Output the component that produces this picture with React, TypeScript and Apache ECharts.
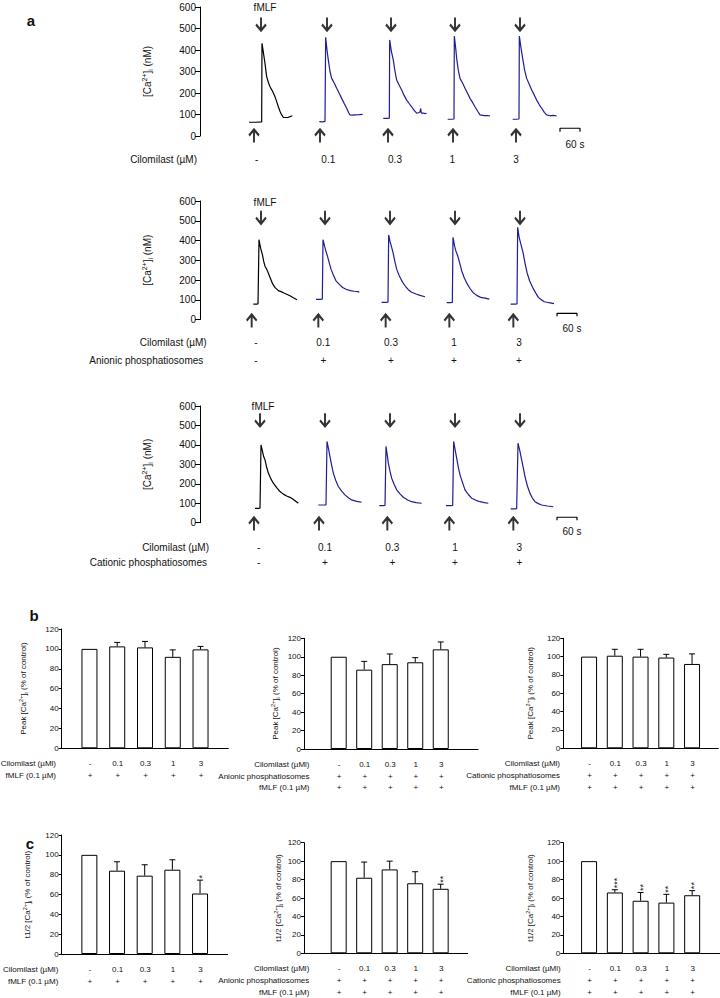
import React, { useEffect, useRef } from "react";
import * as echarts from "echarts";

const FONT = "'Liberation Sans', Arial, Helvetica, sans-serif";
const BLUE = "#1d1d97";
const INK = "#111";

// ---------------- Panel a: texts ----------------
const doseLabelsA = ["-", "0.1", "0.3", "1", "3"];
const anionicRowA = ["-", "+", "+", "+", "+"];
const cationicRowA = ["-", "+", "+", "+", "+"];

// ---------------- Panel a: traces ([seconds from trace start, nM]) ----------------
const row1Traces: number[][][] = [
  [[0, 64], [20, 64], [38, 66], [39, 431], [44, 380], [48, 338], [53, 276], [58, 250], [63, 229], [70, 210], [78, 183], [83, 160], [88, 136], [93, 115], [98, 98], [103, 87], [110, 86], [118, 87], [125, 91], [130, 94]],
  [[0, 67], [10, 66], [17, 68], [19, 459], [23, 400], [27, 353], [32, 300], [37, 268], [45, 245], [52, 222], [60, 198], [67, 175], [75, 150], [82, 129], [88, 108], [92, 98], [100, 97], [107, 98], [120, 99], [130, 101]],
  [[0, 82], [12, 82], [18, 83], [19, 447], [24, 395], [30, 353], [35, 300], [40, 260], [47, 238], [55, 214], [62, 190], [70, 167], [78, 150], [85, 136], [92, 120], [100, 106], [105, 108], [110, 112], [112, 128], [114, 106], [120, 107], [125, 104], [130, 106]],
  [[0, 78], [12, 78], [19, 79], [20, 465], [24, 410], [27, 361], [32, 305], [37, 268], [45, 245], [52, 222], [60, 198], [67, 175], [75, 155], [82, 136], [90, 115], [97, 98], [110, 95], [120, 95], [127, 93]],
  [[0, 78], [12, 78], [19, 79], [20, 465], [25, 410], [30, 361], [36, 305], [42, 268], [50, 240], [57, 214], [65, 190], [72, 167], [80, 145], [87, 129], [95, 110], [102, 98], [112, 94], [122, 96], [132, 93]],
];
const row2Traces: number[][][] = [
  [[0, 78], [10, 78], [14, 79], [17, 404], [22, 360], [27, 330], [31, 295], [35, 270], [40, 255], [46, 230], [52, 205], [58, 180], [66, 160], [75, 146], [85, 140], [92, 134], [100, 128], [110, 120], [120, 110], [131, 100]],
  [[0, 102], [12, 102], [19, 103], [21, 404], [26, 370], [30, 345], [34, 323], [40, 285], [45, 255], [52, 225], [60, 196], [70, 178], [80, 162], [90, 153], [103, 146], [115, 143], [126, 141], [130, 138]],
  [[0, 87], [12, 87], [19, 88], [21, 428], [25, 395], [30, 365], [34, 340], [40, 290], [45, 255], [53, 220], [63, 188], [72, 167], [80, 151], [90, 138], [103, 129], [115, 122], [130, 115]],
  [[0, 85], [12, 85], [17, 86], [19, 416], [24, 370], [28, 345], [33, 323], [40, 280], [45, 247], [53, 210], [62, 179], [70, 157], [79, 137], [90, 122], [102, 112], [115, 108], [128, 103]],
  [[0, 78], [12, 78], [19, 79], [21, 467], [25, 420], [30, 385], [37, 340], [43, 285], [49, 238], [57, 195], [66, 162], [75, 135], [83, 112], [92, 100], [101, 90], [115, 85], [130, 80]],
];
const row3Traces: number[][][] = [
  [[0, 74], [10, 74], [15, 75], [18, 400], [22, 370], [26, 340], [30, 323], [35, 285], [40, 255], [47, 228], [55, 203], [65, 180], [75, 160], [85, 147], [95, 137], [105, 130], [110, 126], [120, 113], [130, 100]],
  [[0, 91], [15, 91], [23, 92], [26, 418], [30, 385], [35, 340], [40, 295], [45, 255], [52, 218], [60, 186], [70, 162], [80, 143], [90, 128], [100, 117], [115, 110], [130, 105]],
  [[0, 88], [12, 88], [17, 89], [20, 392], [24, 345], [27, 306], [32, 265], [37, 229], [45, 195], [52, 169], [62, 148], [72, 131], [85, 117], [97, 108], [110, 103], [127, 100]],
  [[0, 88], [14, 88], [20, 89], [23, 418], [28, 370], [32, 332], [37, 285], [42, 246], [50, 205], [57, 169], [67, 145], [77, 126], [90, 115], [102, 108], [115, 103], [127, 100]],
  [[0, 71], [12, 71], [18, 72], [22, 409], [28, 365], [33, 323], [38, 280], [43, 237], [50, 190], [58, 151], [65, 127], [73, 108], [83, 98], [93, 91], [110, 86], [128, 82]],
];

// ---------------- Panels b & c: data ----------------
const barDoses = ["-", "0.1", "0.3", "1", "3"];
const plusRow = ["+", "+", "+", "+", "+"];
const peakControl = [100, 102.5, 101.5, 92, 99.5];
const peakControlErr = [0, 4, 6, 7, 3];
const peakAnionic = [100, 86, 92, 94, 108];
const peakAnionicErr = [0, 9, 11, 5, 8];
const peakCationic = [100, 101, 100, 99, 92];
const peakCationicErr = [0, 7, 8, 3.5, 11];
const halfControl = [100, 84, 79, 85, 61];
const halfControlErr = [0, 9, 11, 10, 13.5];
const halfControlStars = ["", "", "", "", "*"];
const halfAnionic = [100, 82, 91, 76, 70];
const halfAnionicErr = [0, 17, 9, 12.5, 5];
const halfAnionicStars = ["", "", "", "", "**"];
const halfCationic = [100, 66, 57, 55, 63];
const halfCationicErr = [0, 3, 9, 9, 5];
const halfCationicStars = ["", "***", "**", "**", "**"];
const noStars = ["", "", "", "", ""];

// ---------------- Layout ----------------
const A_LEFT = 200;
const A_WIDTH = 400;
const A_TMAX = 1200; // seconds across the row (3 s per px)

const aRows = [
  {
    top: 7, bottom: 136, starts: [147, 358, 550, 743, 938], traces: row1Traces,
    down: [183, 381, 573, 765, 960], up: [162, 360, 564, 759, 948], downV: 521, upV: 0,
    bar: [1080, 1140], barV: 36, barTickV: 20,
    fmlf: [265, 7], sixty: [575, 144],
    headers: [{ text: "Cilomilast (µM)", right: 197, y: 159.3, cells: doseLabelsA }],
    colX: [256.7, 328.3, 395, 452.3, 516],
  },
  {
    top: 201, bottom: 319.5, starts: [160, 348, 545, 740, 932], traces: row2Traces,
    down: [183, 375, 570, 765, 960], up: [155, 355, 557, 748, 940], downV: 518, upV: -8,
    bar: [1071, 1131], barV: 31, barTickV: 16,
    fmlf: [265, 202], sixty: [572, 328.5],
    headers: [
      { text: "Cilomilast (µM)", right: 206.7, y: 342.7, cells: doseLabelsA },
      { text: "Anionic phosphatiosomes", right: 203.3, y: 360, cells: anionicRowA },
    ],
    colX: [256, 323.3, 391, 454, 519],
  },
  {
    top: 406, bottom: 522.7, starts: [165, 355, 538, 738, 932], traces: row3Traces,
    down: [180, 375, 570, 765, 960], up: [162, 357, 562, 748, 940], downV: 529, upV: -7,
    bar: [1071, 1131], barV: 28, barTickV: 13,
    fmlf: [263, 406], sixty: [572, 531.7],
    headers: [
      { text: "Cilomilast (µM)", right: 209, y: 547.3, cells: doseLabelsA },
      { text: "Cationic phosphatiosomes", right: 207, y: 562.7, cells: cationicRowA },
    ],
    colX: [258.7, 325, 392.3, 455, 519.3],
  },
];

const PEAK_NAME = "Peak [Ca{s|2+}]{b|i} (% of control)";
const HALF_NAME = "t1/2 [Ca{s|2+}]{b|i} (% of control)";

const bcCharts = [
  { left: 61.7, right: 228.3, top: 629, bottom: 748.3, xmin: 0, xmax: 6, gap: 32.7, name: PEAK_NAME,
    vals: peakControl, errs: peakControlErr, stars: noStars,
    headers: ["Cilomilast (µMl)", "fMLF (0.1 µM)"], lines: [barDoses, plusRow], hRight: 56 },
  { left: 304, right: 478, top: 638.3, bottom: 749, xmin: -0.36, xmax: 6.46, gap: 22.7, name: PEAK_NAME,
    vals: peakAnionic, errs: peakAnionicErr, stars: noStars,
    headers: ["Cilomilast (µMl)", "Anionic phosphatiosomes", "fMLF (0.1 µM)"], lines: [barDoses, plusRow, plusRow], hRight: 309.5 },
  { left: 563.3, right: 718.3, top: 638.3, bottom: 748.3, xmin: 0, xmax: 6.02, gap: 27.6, name: PEAK_NAME,
    vals: peakCationic, errs: peakCationicErr, stars: noStars,
    headers: ["Cilomilast (µMl)", "Cationic phosphatiosomes", "fMLF (0.1 µM)"], lines: [barDoses, plusRow, plusRow], hRight: 560 },
  { left: 61.7, right: 227.7, top: 835, bottom: 954, xmin: 0, xmax: 6, gap: 28.4, name: HALF_NAME,
    vals: halfControl, errs: halfControlErr, stars: halfControlStars,
    headers: ["Cilomilast (µMl)", "fMLF (0.1 µM)"], lines: [barDoses, plusRow], hRight: 58.3 },
  { left: 304, right: 467.7, top: 842.7, bottom: 953.3, xmin: -0.36, xmax: 6.06, gap: 18.3, name: HALF_NAME,
    vals: halfAnionic, errs: halfAnionicErr, stars: halfAnionicStars,
    headers: ["Cilomilast (µMl)", "Anionic phosphatiosomes", "fMLF (0.1 µM)"], lines: [barDoses, plusRow, plusRow], hRight: 309.3 },
  { left: 563.3, right: 720, top: 842.7, bottom: 953.3, xmin: 0, xmax: 6.08, gap: 27.6, name: HALF_NAME,
    vals: halfCationic, errs: halfCationicErr, stars: halfCationicStars,
    headers: ["Cilomilast (µMl)", "Cationic phosphatiosomes", "fMLF (0.1 µM)"], lines: [barDoses, plusRow, plusRow], hRight: 560.7 },
];

const ROW_FIRST = 15.5;
const ROW_STEP = 11.7;

const DOWN = "path://M5 0L5 13M0 7L5 13L10 7";
const UP = "path://M5 13L5 0M0 6L5 0L10 6";

function textEl(x: number, y: number, text: string, size: number, align: string, vAlign: string, rotation = 0) {
  return {
    type: "text", x, y, rotation, silent: true,
    style: {
      text, fontSize: size, fontFamily: FONT, fill: INK,
      align, verticalAlign: vAlign, textAlign: align, textVerticalAlign: vAlign,
    },
  };
}

function buildOption() {
  const grid: any[] = [];
  const xAxis: any[] = [];
  const yAxis: any[] = [];
  const series: any[] = [];
  const graphic: any[] = [];

  const txt = (x: number, y: number, text: string, size: number, align = "center", bold = false) => {
    const el: any = textEl(x, y, text, size, align, "middle");
    if (bold) el.style.fontWeight = "bold";
    graphic.push(el);
  };

  // panel letters
  txt(31, 20, "a", 15, "center", true);
  txt(34, 615, "b", 15, "center", true);
  txt(30, 843, "c", 15, "center", true);

  // ---------- panel a ----------
  aRows.forEach((r, k) => {
    grid.push({ left: A_LEFT, top: r.top, width: A_WIDTH, height: r.bottom - r.top, outerBoundsMode: "none" });
    xAxis.push({ gridIndex: k, type: "value", min: 0, max: A_TMAX, show: false });
    yAxis.push({
      gridIndex: k, type: "value", min: 0, max: 600, interval: 100,
      axisLine: { show: true, onZero: false, lineStyle: { color: "#000", width: 1 } },
      axisTick: { show: true, length: 5, lineStyle: { color: "#000" } },
      axisLabel: { fontSize: 10, fontFamily: FONT, color: INK, margin: 4 },
      splitLine: { show: false },
      name: "[Ca{s|2+}]{b|i} (nM)", nameLocation: "middle", nameRotate: 90, nameGap: 46,
      nameTextStyle: {
        fontSize: 10, fontFamily: FONT, color: INK,
        rich: {
          s: { fontSize: 7, fontFamily: FONT, color: INK, padding: [0, 0, 6, 0] },
          b: { fontSize: 7, fontFamily: FONT, color: INK, padding: [5, 0, 0, 0] },
        },
      },
    });
    r.traces.forEach((tr, i) => {
      series.push({
        type: "line", xAxisIndex: k, yAxisIndex: k, symbol: "none", showSymbol: false, clip: false, silent: true,
        data: tr.map(([t, v]) => [r.starts[i] + t, v]),
        lineStyle: { color: i === 0 ? "#000" : BLUE, width: 1.2 },
      });
    });
    series.push({
      type: "scatter", xAxisIndex: k, yAxisIndex: k, clip: false, silent: true,
      symbol: DOWN, symbolSize: [10, 13],
      data: r.down.map((t) => [t, r.downV]),
      itemStyle: { color: "rgba(0,0,0,0)", borderColor: "#000", borderWidth: 2.2 },
    });
    series.push({
      type: "scatter", xAxisIndex: k, yAxisIndex: k, clip: false, silent: true,
      symbol: UP, symbolSize: [10, 13],
      data: r.up.map((t) => [t, r.upV]),
      itemStyle: { color: "rgba(0,0,0,0)", borderColor: "#000", borderWidth: 2.2 },
    });
    series.push({
      type: "line", xAxisIndex: k, yAxisIndex: k, symbol: "none", clip: false, silent: true,
      data: [[r.bar[0], r.barTickV], [r.bar[0], r.barV], [r.bar[1], r.barV], [r.bar[1], r.barTickV]],
      lineStyle: { color: "#000", width: 1.2 },
    });
    txt(r.fmlf[0], r.fmlf[1], "fMLF", 10);
    txt(r.sixty[0], r.sixty[1], "60 s", 10);
    r.headers.forEach((h) => {
      txt(h.right, h.y, h.text, 10, "right");
      h.cells.forEach((c, i) => txt(r.colX[i], h.y, c, 10));
    });
  });

  // ---------- panels b & c ----------
  bcCharts.forEach((c, j) => {
    const k = 3 + j;
    grid.push({ left: c.left, top: c.top, width: c.right - c.left, height: c.bottom - c.top, outerBoundsMode: "none" });
    xAxis.push({
      gridIndex: k, type: "value", min: c.xmin, max: c.xmax,
      axisLine: { show: true, onZero: false, lineStyle: { color: "#000", width: 1 } },
      axisTick: { show: false }, axisLabel: { show: false }, splitLine: { show: false },
    });
    yAxis.push({
      gridIndex: k, type: "value", min: 0, max: 120, interval: 20,
      axisLine: { show: true, onZero: false, lineStyle: { color: "#000", width: 1 } },
      axisTick: { show: true, length: 3, lineStyle: { color: "#000" } },
      axisLabel: { fontSize: 8, fontFamily: FONT, color: INK, margin: 3 },
      splitLine: { show: false },
      name: c.name, nameLocation: "middle", nameRotate: 90, nameGap: c.gap,
      nameTextStyle: {
        fontSize: 8, fontFamily: FONT, color: INK,
        rich: {
          s: { fontSize: 5.5, fontFamily: FONT, color: INK, padding: [0, 0, 5, 0] },
          b: { fontSize: 5.5, fontFamily: FONT, color: INK, padding: [4, 0, 0, 0] },
        },
      },
    });
    series.push({
      type: "bar", xAxisIndex: k, yAxisIndex: k, barWidth: 16, silent: true,
      data: c.vals.map((v, i) => [i + 1, v]),
      itemStyle: { color: "#fff", borderColor: "#000", borderWidth: 1 },
    });
    // error bars, significance stars and the condition labels under each bar
    series.push({
      type: "custom", xAxisIndex: k, yAxisIndex: k, silent: true, clip: false,
      data: c.vals.map((v, i) => [i + 1, v, v + c.errs[i]]),
      renderItem: (params: any, api: any) => {
        const idx = params.dataIndex;
        const x = api.value(0);
        const lo = api.value(1);
        const hi = api.value(2);
        const children: any[] = [];
        const p1 = api.coord([x, hi]);
        if (hi - lo > 0) {
          const p0 = api.coord([x, lo]);
          children.push(
            { type: "line", shape: { x1: p0[0], y1: p0[1], x2: p1[0], y2: p1[1] }, style: { stroke: "#000", lineWidth: 1 } },
            { type: "line", shape: { x1: p1[0] - 3, y1: p1[1], x2: p1[0] + 3, y2: p1[1] }, style: { stroke: "#000", lineWidth: 1 } },
          );
        }
        const star = c.stars[idx];
        if (star) {
          children.push(textEl(p1[0] + 2, p1[1] - 1.5, star, 9, "left", "middle", Math.PI / 2));
        }
        const base = api.coord([x, 0]);
        c.lines.forEach((line, li) => {
          children.push(textEl(base[0] + 0.5, base[1] + ROW_FIRST + li * ROW_STEP, line[idx], 8, "center", "middle"));
        });
        return { type: "group", children };
      },
    });
    c.headers.forEach((h, i) => txt(c.hRight, c.bottom + ROW_FIRST + i * ROW_STEP, h, 8, "right"));
  });

  return {
    animation: false,
    backgroundColor: "#fff",
    textStyle: { fontFamily: FONT },
    grid, xAxis, yAxis, series, graphic,
  };
}

export default function App() {
  const ref = useRef<HTMLDivElement>(null);
  useEffect(() => {
    const chart = echarts.init(ref.current!, undefined, { renderer: "svg", width: 720, height: 998 });
    chart.setOption(buildOption() as any);
    return () => chart.dispose();
  }, []);
  return (
    <div
      ref={ref}
      style={{ position: "absolute", left: 0, top: 0, width: 720, height: 998, background: "#fff" }}
    />
  );
}
